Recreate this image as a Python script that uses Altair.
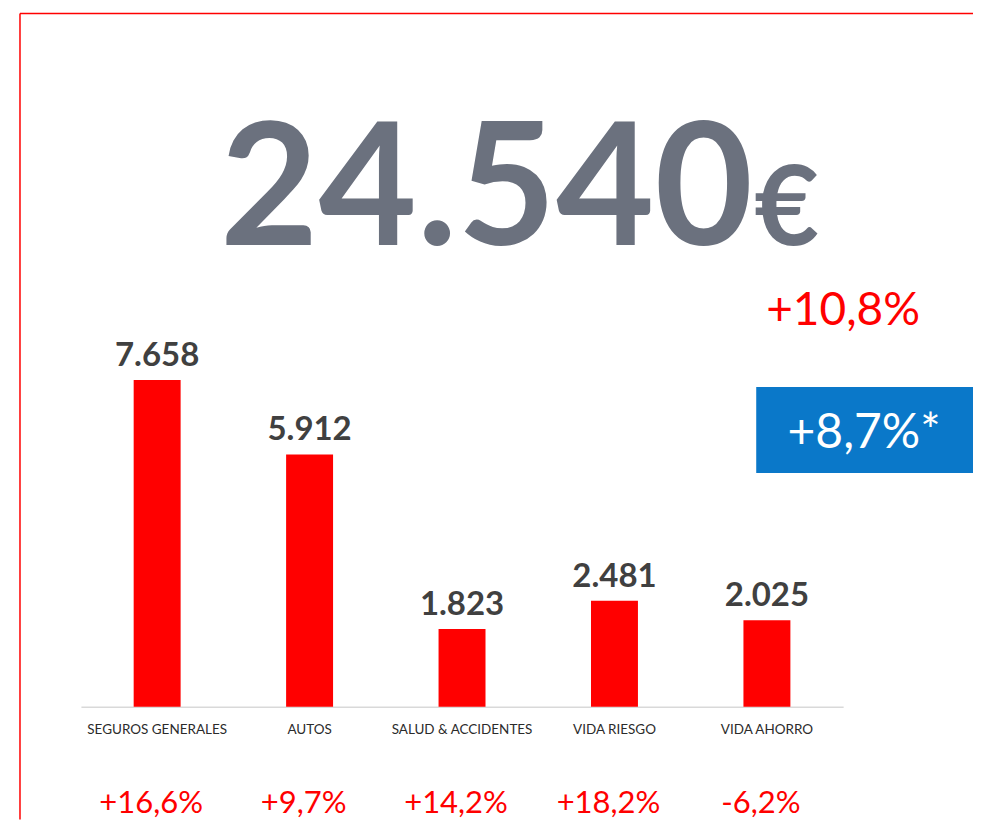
import altair as alt
import pandas as pd

# ---- data ----
categories = ["SEGUROS GENERALES", "AUTOS", "SALUD & ACCIDENTES", "VIDA RIESGO", "VIDA AHORRO"]
values = [7.658, 5.912, 1.823, 2.481, 2.025]
value_labels = ["7.658", "5.912", "1.823", "2.481", "2.025"]
changes = ["+16,6%", "+9,7%", "+14,2%", "+18,2%", "-6,2%"]
total_label = ["24.540"]
currency = ["€"]
total_change = ["+10,8%"]
adjusted_change = ["+8,7%*"]

df = pd.DataFrame({"cat": categories, "value": values, "label": value_labels, "change": changes})

W, H = 763, 694
FONT = "Lato"

x_enc = alt.X(
    "cat:N",
    sort=categories,
    scale=alt.Scale(paddingInner=0, paddingOuter=0),
    axis=alt.Axis(
        title=None, labelAngle=0, ticks=False, grid=False,
        domainColor="#d9d9d9", domainWidth=1.5,
        labelFont=FONT, labelFontSize=13.5, labelColor="#2b2b2b", labelPadding=16,
    ),
)
y_enc = alt.Y("value:Q", scale=alt.Scale(domain=[0, 16.25], nice=False, zero=True), axis=None)

base = alt.Chart(df)

bars = base.mark_bar(size=47, color="#ff0000").encode(x=x_enc, y=y_enc)

bar_labels = base.mark_text(
    font=FONT, fontWeight="bold", fontSize=33, color="#404040", baseline="alphabetic", dy=-14
).encode(x=x_enc, y=y_enc, text="label:N")

pct_labels = base.mark_text(
    font=FONT, fontSize=31, color="#ff0000", baseline="alphabetic", dx=-6
).encode(x=x_enc, y=alt.value(800), text="change:N")

# frame lines (red border at top and left)
frame_df = pd.DataFrame({"k": [0]})
top_line = alt.Chart(frame_df).mark_rule(color="#ff0000", strokeWidth=1.5).encode(
    x=alt.value(-61), x2=alt.value(893), y=alt.value(0)
)
left_line = alt.Chart(frame_df).mark_rule(color="#ff0000", strokeWidth=1.5).encode(
    x=alt.value(-61), y=alt.value(0), y2=alt.value(807)
)

# big total
total_text = alt.Chart(pd.DataFrame({"t": total_label})).mark_text(
    font=FONT, fontWeight="bold", fontSize=170, color="#6b717e", align="center", baseline="alphabetic"
).encode(x=alt.value(406), y=alt.value(232), text="t:N")

euro_text = alt.Chart(pd.DataFrame({"t": currency})).mark_text(
    font=FONT, fontWeight="bold", fontSize=112, color="#6b717e", align="left", baseline="alphabetic"
).encode(x=alt.value(674), y=alt.value(232), text="t:N")

change_text = alt.Chart(pd.DataFrame({"t": total_change})).mark_text(
    font=FONT, fontSize=46, color="#ff0000", align="center", baseline="alphabetic"
).encode(x=alt.value(763), y=alt.value(312), text="t:N")

blue_box = alt.Chart(frame_df).mark_rect(color="#0a78c9").encode(
    x=alt.value(676), x2=alt.value(894), y=alt.value(374), y2=alt.value(460)
)

adj_text = alt.Chart(pd.DataFrame({"t": adjusted_change})).mark_text(
    font=FONT, fontSize=48, color="#ffffff", align="center", baseline="alphabetic"
).encode(x=alt.value(784), y=alt.value(435), text="t:N")

chart = alt.layer(
    top_line, left_line, bars, bar_labels, pct_labels,
    total_text, euro_text, change_text, blue_box, adj_text,
).properties(
    width=W, height=H,
    autosize=alt.AutoSizeParams(type="none"),
    padding={"left": 73, "top": 5, "right": 130, "bottom": 113},
    background="#ffffff",
).configure_view(stroke=None)

chart.save("out.html", embed_options={"renderer": "svg", "actions": False})
